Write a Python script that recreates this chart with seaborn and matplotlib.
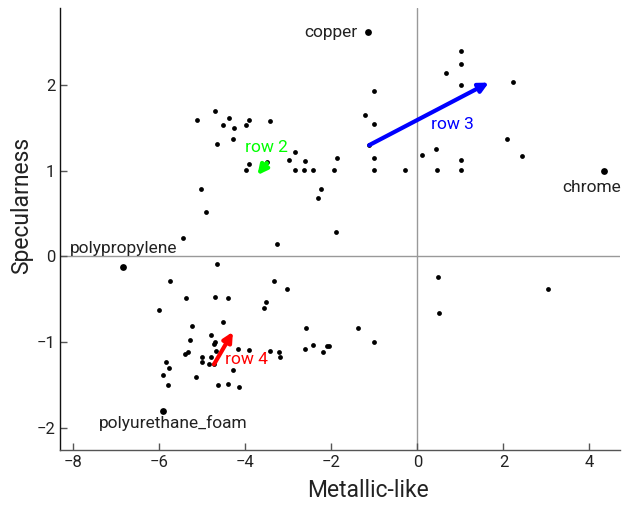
import matplotlib
matplotlib.use("Agg")
import matplotlib.pyplot as plt
import seaborn as sns
import pandas as pd

# ---- data ----
pts_x = [-5.13, -4.70, -4.38, -4.51, -4.27, -3.98, -3.91, -3.43, -4.28, -4.67,
         -3.91, -3.98, -3.49, -2.85, -2.99, -2.61, -2.85, -2.63, -2.43, -1.94,
         -1.86, -2.25, -2.31, -5.04, -4.92, -5.44, -1.90, -3.26, -4.67,
         -1.00, -1.23, -1.00, -1.12, -1.00, -1.00, -0.30, 0.10, 0.43, 1.02,
         0.45, 1.02, 2.08, 2.43, 1.02, 1.02, 0.67, 1.02, 2.23,
         0.48, 3.03, 0.50,
         -5.76, -3.33, -3.04, -5.37, -4.70, -4.40, -3.53, -3.57, -6.01, -4.53,
         -5.24, -4.79, -2.59, -1.39, -5.29, -4.70, -4.73, -1.00, -2.42, -2.06,
         -2.10, -2.61, -2.19, -5.34, -5.40, -4.68, -4.18, -3.92, -3.43, -3.22,
         -3.19, -5.00, -4.81, -5.00, -4.84, -4.73, -5.84, -5.78, -4.29, -5.91,
         -5.14, -5.79, -4.63, -4.41, -4.14]
pts_y = [1.59, 1.70, 1.62, 1.54, 1.50, 1.54, 1.59, 1.58, 1.37, 1.31,
         1.08, 1.01, 1.10, 1.22, 1.13, 1.11, 1.01, 1.01, 1.01, 1.01,
         1.15, 0.79, 0.68, 0.79, 0.52, 0.21, 0.28, 0.15, -0.09,
         1.93, 1.65, 1.55, 1.30, 1.15, 1.01, 1.01, 1.19, 1.25, 1.13,
         1.01, 1.01, 1.37, 1.17, 2.40, 2.25, 2.14, 2.00, 2.04,
         -0.24, -0.38, -0.66,
         -0.29, -0.29, -0.38, -0.49, -0.47, -0.49, -0.53, -0.60, -0.63, -0.77,
         -0.81, -0.92, -0.83, -0.83, -0.98, -1.00, -1.02, -1.00, -1.03, -1.04,
         -1.04, -1.08, -1.12, -1.12, -1.14, -1.10, -1.08, -1.09, -1.10, -1.12,
         -1.17, -1.17, -1.17, -1.23, -1.25, -1.26, -1.23, -1.30, -1.33, -1.39,
         -1.41, -1.50, -1.50, -1.49, -1.52]

named = ["copper", "chrome", "polypropylene", "polyurethane_foam"]
named_x = [-1.16, 4.34, -6.84, -5.91]
named_y = [2.62, 1.00, -0.12, -1.81]
named_tx = [-1.40, 4.06, -6.82, -5.67]
named_ty = [2.62, 0.81, 0.09, -1.95]
named_ha = ["right", "center", "center", "center"]

arrow_names = ["row 2", "row 3", "row 4"]
arrow_x0 = [-3.50, -1.12, -4.73]
arrow_y0 = [1.09, 1.30, -1.26]
arrow_x1 = [-3.72, 1.66, -4.29]
arrow_y1 = [0.95, 2.03, -0.88]
arrow_lx = [-3.50, 0.81, -3.97]
arrow_ly = [1.27, 1.54, -1.20]
arrow_colors = ["#00ff00", "#0000ff", "#ff0000"]

# ---- plot ----
sns.set_style("white")
plt.rcParams['font.family'] = ['Roboto', 'DejaVu Sans']

fig = plt.figure(figsize=(6.29, 5.05), dpi=100)
ax = fig.add_axes([0.0954, 0.1089, 0.8903, 0.8751])

ax.axhline(0, color="#999999", lw=1, zorder=0)
ax.axvline(0, color="#999999", lw=1, zorder=0)

df = pd.DataFrame({"x": pts_x, "y": pts_y})
sns.scatterplot(data=df, x="x", y="y", ax=ax, color="black", s=12,
                linewidth=0, zorder=3)
dn = pd.DataFrame({"x": named_x, "y": named_y})
sns.scatterplot(data=dn, x="x", y="y", ax=ax, color="black", s=24,
                linewidth=0, zorder=3)

for n, tx, ty, ha in zip(named, named_tx, named_ty, named_ha):
    ax.text(tx, ty, n, ha=ha, va="center", fontsize=12.5, color="#222222")

for n, x0, y0, x1, y1, lx, ly, c in zip(arrow_names, arrow_x0, arrow_y0,
                                          arrow_x1, arrow_y1, arrow_lx,
                                          arrow_ly, arrow_colors):
    ax.annotate("", xy=(x1, y1), xytext=(x0, y0),
                arrowprops=dict(arrowstyle="-|>", color=c, lw=3,
                                mutation_scale=14, shrinkA=0, shrinkB=0),
                zorder=4)
    ax.text(lx, ly, n, ha="center", va="center", fontsize=12.5, color=c)

ax.set_xlim(-8.31, 4.71)
ax.set_ylim(-2.26, 2.90)
ax.set_xticks([-8, -6, -4, -2, 0, 2, 4])
ax.set_yticks([-2, -1, 0, 1, 2])
ax.set_xlabel("Metallic-like", fontsize=16.5, color="#222222")
ax.set_ylabel("Specularness", fontsize=16.5, color="#222222")
ax.xaxis.set_label_coords(0.55, -0.066)
ax.yaxis.set_label_coords(-0.048, 0.554)
ax.tick_params(direction="in", length=5, width=1, colors="#555555",
               labelcolor="#222222", labelsize=12, left=True, bottom=True)
for s in ["top", "right"]:
    ax.spines[s].set_visible(False)
ax.spines["left"].set_color("#111111")
ax.spines["bottom"].set_color("#555555")
for s in ["left", "bottom"]:
    ax.spines[s].set_linewidth(1)

fig.savefig("out.png", dpi=100)
